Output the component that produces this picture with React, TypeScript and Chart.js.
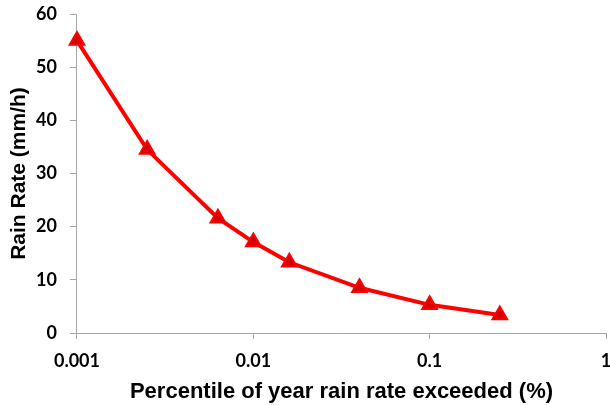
import React, { useEffect, useRef } from "react";
import { Chart, registerables } from "chart.js";

Chart.register(...registerables);

const percentiles = [0.001, 0.0025, 0.0063, 0.01, 0.016, 0.04, 0.1, 0.25];
const rainRates = [55, 34.5, 21.6, 17.1, 13.3, 8.5, 5.3, 3.4];
const xTickValues = [0.001, 0.01, 0.1, 1];
const xTickLabels = ["0.001", "0.01", "0.1", "1"];
const yTickValues = [0, 10, 20, 30, 40, 50, 60];

const TICK_FONT = "Lato, 'Open Sans', sans-serif";
const TITLE_FONT = "'Liberation Sans', Arial, sans-serif";

export default function App() {
  const ref = useRef<HTMLCanvasElement | null>(null);

  useEffect(() => {
    document.body.style.margin = "0";
    const canvas = ref.current;
    if (!canvas) return;
    const chart = new Chart(canvas, {
      type: "line",
      data: {
        datasets: [
          {
            data: percentiles.map((x, i) => ({ x, y: rainRates[i] })),
            borderColor: "#FF0000",
            borderWidth: 4,
            backgroundColor: "#FF0000",
            pointStyle: "triangle",
            pointRadius: 8.5,
            pointBorderColor: "#FF0000",
            pointBorderWidth: 2,
            pointBackgroundColor: "#D60000",
            tension: 0,
            clip: false,
          },
        ],
      },
      options: {
        responsive: false,
        animation: false,
        layout: { autoPadding: false, padding: { top: 14, left: 0, right: 4, bottom: 0 } },
        plugins: { legend: { display: false }, tooltip: { enabled: false } },
        scales: {
          x: {
            type: "logarithmic",
            min: 0.001,
            max: 1,
            afterBuildTicks: (scale: any) => {
              scale.ticks = xTickValues.map((v) => ({ value: v }));
            },
            afterFit: (scale: any) => {
              scale.paddingRight = 0;
              scale.paddingLeft = 0;
            },
            ticks: {
              autoSkip: false,
              maxRotation: 0,
              padding: 11,
              color: "#000",
              font: { family: TICK_FONT, size: 18, weight: "bold" },
              callback: (v: any) => {
                const i = xTickValues.indexOf(Number(v));
                return i >= 0 ? xTickLabels[i] : "";
              },
            },
            grid: {
              drawOnChartArea: false,
              drawTicks: true,
              tickLength: 6,
              color: "#A6A6A6",
            },
            border: { color: "#A6A6A6", width: 1 },
            title: {
              display: true,
              text: "Percentile of year rain rate exceeded (%)",
              color: "#000",
              font: { family: TITLE_FONT, size: 22, weight: "bold" },
              padding: { top: -4, bottom: 0 },
            },
          },
          y: {
            min: 0,
            max: 60,
            afterBuildTicks: (scale: any) => {
              scale.ticks = yTickValues.map((v) => ({ value: v }));
            },
            afterFit: (scale: any) => {
              scale.paddingTop = 0;
              scale.paddingBottom = 0;
            },
            ticks: {
              padding: 13,
              color: "#000",
              font: { family: TICK_FONT, size: 18, weight: "bold" },
            },
            grid: {
              drawOnChartArea: false,
              drawTicks: true,
              tickLength: 7,
              color: "#A6A6A6",
            },
            border: { color: "#A6A6A6", width: 1 },
            title: {
              display: true,
              text: "Rain Rate (mm/h)",
              color: "#000",
              font: { family: TITLE_FONT, size: 21, weight: "bold" },
              padding: { top: 6.4, bottom: -8.5 },
            },
          },
        },
      },
    });
    return () => chart.destroy();
  }, []);

  return (
    <div style={{ position: "absolute", left: 0, top: 0, width: 610, height: 405, background: "#fff" }}>
      <canvas ref={ref} width={610} height={405} style={{ width: 610, height: 405 }} />
    </div>
  );
}
